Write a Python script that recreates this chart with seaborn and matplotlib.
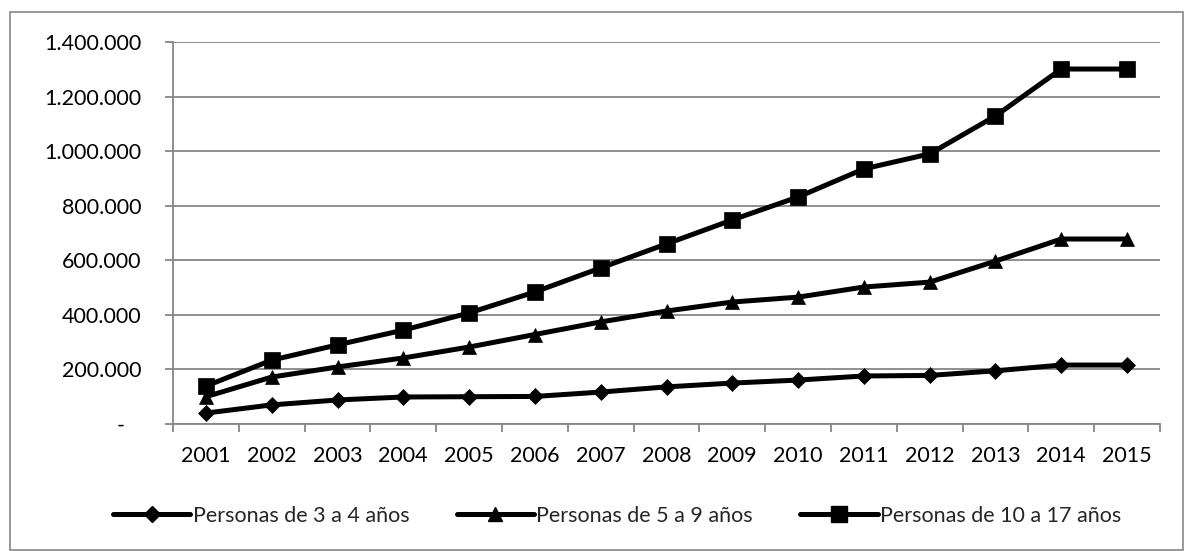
import matplotlib
matplotlib.use("Agg")
import matplotlib.pyplot as plt
import matplotlib.patches as mpatches
from matplotlib.lines import Line2D
import seaborn as sns
import pandas as pd
import numpy as np

years = [2001, 2002, 2003, 2004, 2005, 2006, 2007, 2008, 2009, 2010, 2011, 2012, 2013, 2014, 2015]
series_names = ["Personas de 3 a 4 años", "Personas de 5 a 9 años", "Personas de 10 a 17 años"]
s_3a4 = [40000, 70000, 88000, 99000, 100000, 101000, 117000, 136000, 150000, 161000, 176000, 178000, 195000, 216000, 216000]
s_5a9 = [100000, 172000, 209000, 242000, 282000, 328000, 374000, 414000, 447000, 465000, 502000, 520000, 597000, 678000, 678000]
s_10a17 = [139000, 234000, 290000, 344000, 407000, 484000, 572000, 660000, 748000, 832000, 935000, 990000, 1129000, 1301000, 1301000]
y_ticks = [0, 200000, 400000, 600000, 800000, 1000000, 1200000, 1400000]

sns.set_theme(style="white")
plt.rcParams['font.family'] = ['Lato', 'DejaVu Sans']

rows = []
for name, vals in zip(series_names, [s_3a4, s_5a9, s_10a17]):
    for i, (yr, v) in enumerate(zip(years, vals)):
        rows.append({"pos": i, "year": yr, "valor": v, "serie": name})
df = pd.DataFrame(rows)

fig = plt.figure(figsize=(11.84, 5.51), dpi=100)
ax = fig.add_axes([173/1184, 1-424/551, (1160-173)/1184, (424-42)/551])

markers = {series_names[0]: "D", series_names[1]: "^", series_names[2]: "s"}
msizes = {series_names[0]: 8, series_names[1]: 10, series_names[2]: 11}
palette = {n: "black" for n in series_names}

for name in series_names:
    sub = df[df["serie"] == name]
    sns.lineplot(data=sub, x="pos", y="valor", ax=ax, color="black", marker=markers[name],
                 markersize=msizes[name], linewidth=3.6, markeredgecolor="black",
                 markeredgewidth=0.5, legend=False, zorder=3)

grid_c = "#868686"
ax.set_xlim(-0.5, len(years) - 0.5)
ax.set_ylim(0, 1400000)
ax.set_yticks(y_ticks)
ax.set_yticklabels(["-   "] + [f"{v:,}".replace(",", ".") for v in y_ticks[1:]])
ax.set_xticks(range(len(years)))
ax.set_xticklabels([str(y) for y in years])
ax.set_xticks(np.arange(-0.5, len(years), 1.0), minor=True)
ax.set_xlabel("")
ax.set_ylabel("")
ax.yaxis.grid(True, color=grid_c, linewidth=1.3)
ax.xaxis.grid(False)
ax.set_axisbelow(True)
for s in ["top", "right"]:
    ax.spines[s].set_visible(False)
for s in ["left", "bottom"]:
    ax.spines[s].set_color(grid_c)
    ax.spines[s].set_linewidth(1.3)
ax.tick_params(axis="y", which="major", length=6, width=1.3, color=grid_c, pad=17,
               labelsize=15.5, labelcolor="black", left=True)
ax.tick_params(axis="x", which="major", length=0, pad=16, labelsize=15.5, labelcolor="black")
ax.tick_params(axis="x", which="minor", length=6, width=1.3, color=grid_c, bottom=True)

handles = [Line2D([0], [0], color="black", linewidth=3.6, marker=markers[n], markersize=msizes[n],
                  markeredgecolor="black") for n in series_names]
fig.legend(handles, series_names, loc="center", bbox_to_anchor=(617/1184, 1-516/551),
           ncol=3, frameon=False, fontsize=15.5, handlelength=3.6, handletextpad=0.1,
           columnspacing=2.2)

border = mpatches.Rectangle((10/1184, 1-550/551), (1183-10)/1184, (550-12)/551,
                            transform=fig.transFigure, fill=False, edgecolor=grid_c, linewidth=1.2)
fig.patches.append(border)

fig.savefig("out.png", dpi=100)
